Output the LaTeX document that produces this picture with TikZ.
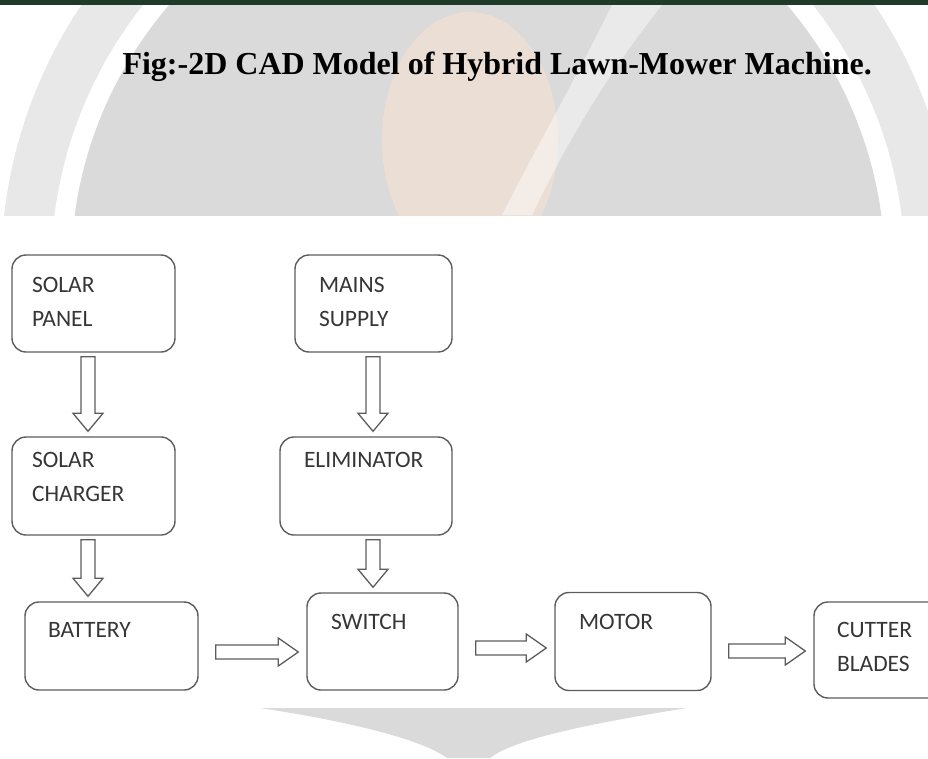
\documentclass[tikz,border=0pt]{standalone}
\usepackage{fontspec}
\setmainfont{Liberation Serif}
\newfontfamily\boxfont{Carlito}
\usetikzlibrary{calc}

\definecolor{barGreen}{HTML}{1F3A29}
\definecolor{wmGrey}{HTML}{DADADA}
\definecolor{wmLight}{HTML}{E8E8E8}
\definecolor{wmOrange}{HTML}{EBDFD5}
\definecolor{boxLine}{HTML}{5C5C5C}
\definecolor{labelGrey}{HTML}{363636}

\newcommand{\boxtext}[3]{\parbox[c][#2][t]{#1}{\raggedright #3}}

\tikzset{
  blockbox/.style={draw=boxLine, line width=1.4pt, rounded corners=14pt,
    inner xsep=24pt, inner ysep=21pt, text=labelGrey,
    font=\boxfont\fontsize{23.5pt}{34pt}\selectfont},
  % hollow block arrows, drawn from node to node
  vblock/.style={draw=boxLine, line width=1.3pt, to path={
    let \p1=(\tikztostart.south), \p2=(\tikztotarget.north) in
    (#1-7,\y1-4pt) -- (#1-7,\y2+23pt) -- (#1-15,\y2+23pt) -- (#1,\y2+5pt)
    -- (#1+15,\y2+23pt) -- (#1+7,\y2+23pt) -- (#1+7,\y1-4pt) -- cycle}},
  hblock/.style={draw=boxLine, line width=1.3pt, to path={
    let \p1=(\tikztostart.east), \p2=(\tikztotarget.west) in
    (\x1+17pt,#1-7) -- (\x2-28pt,#1-7) -- (\x2-28pt,#1-14) -- (\x2-8pt,#1)
    -- (\x2-28pt,#1+14) -- (\x2-28pt,#1+7) -- (\x1+17pt,#1+7) -- cycle}}
}

\begin{document}
\begin{tikzpicture}[x=1pt, y=-1pt]
  \useasboundingbox (0,0) rectangle (928,758);
  \clip (0,0) rectangle (928,758);

  % watermark
  \begin{scope}
    \clip (0,5) rectangle (928,215);
    \fill[wmLight] (478,270) circle[radius=477];
    \fill[white] (478,270) circle[radius=427];
    \fill[wmGrey] (478,270) circle[radius=407];
    \fill[wmOrange] (470,140) ellipse[x radius=88, y radius=128];
    \fill[white, opacity=.45] (612,5) .. controls (575,80) and (535,150) .. (502,215)
      -- (532,215) .. controls (565,145) and (610,70) .. (662,5) -- cycle;
  \end{scope}
  \fill[wmGrey] (260,708) -- (687,708) .. controls (600,722) and (515,738) .. (490,758)
    -- (447,758) .. controls (420,738) and (340,720) .. (260,708) -- cycle;
  \fill[barGreen] (0,0) rectangle (928,5);

  \node (t) [anchor=base west, font=\bfseries\fontsize{32pt}{38pt}\selectfont] at (119,74)
    {Fig:-2D CAD Model of Hybrid Lawn-Mower Machine.};

  \node (1) [blockbox, inner xsep=20pt, inner ysep=22pt] at (93.5,303.5) {\boxtext{123pt}{53pt}{SOLAR\\PANEL}};
  \node (2) [blockbox, inner xsep=20pt, inner ysep=15pt, node distance=182.5pt, below of=1] {\boxtext{123pt}{68pt}{SOLAR\\CHARGER}};
  \node (3) [blockbox, inner xsep=23pt, inner ysep=20pt, node distance=160pt, below of=2, xshift=18pt] {\boxtext{127pt}{48pt}{BATTERY}};

  \node (4) [blockbox, inner ysep=22pt, node distance=280pt, right of=1] {\boxtext{109pt}{53pt}{MAINS\\SUPPLY}};
  \node (5) [blockbox, inner ysep=15pt, node distance=182.5pt, below of=4, xshift=-7.5pt] {\boxtext{124pt}{68pt}{ELIMINATOR}};
  \node (6) [blockbox, node distance=155.5pt, below of=5, xshift=16.5pt] {\boxtext{103pt}{55pt}{SWITCH}};

  \node (7) [blockbox, inner ysep=22pt, node distance=250.5pt, right of=6] {\boxtext{108pt}{54pt}{MOTOR}};
  \node (8) [blockbox, inner xsep=23pt, inner ysep=20pt, node distance=261pt, right of=7, yshift=-8.5pt] {\boxtext{114pt}{56pt}{CUTTER\\BLADES}};

  \draw [vblock=88] (1) to (2);
  \draw [vblock=88] (2) to (3);
  \draw [vblock=373] (4) to (5);
  \draw [vblock=373] (5) to (6);

  \draw [hblock=652] (3) to (6);
  \draw [hblock=648] (6) to (7);
  \draw [hblock=651] (7) to (8);
\end{tikzpicture}
\end{document}
